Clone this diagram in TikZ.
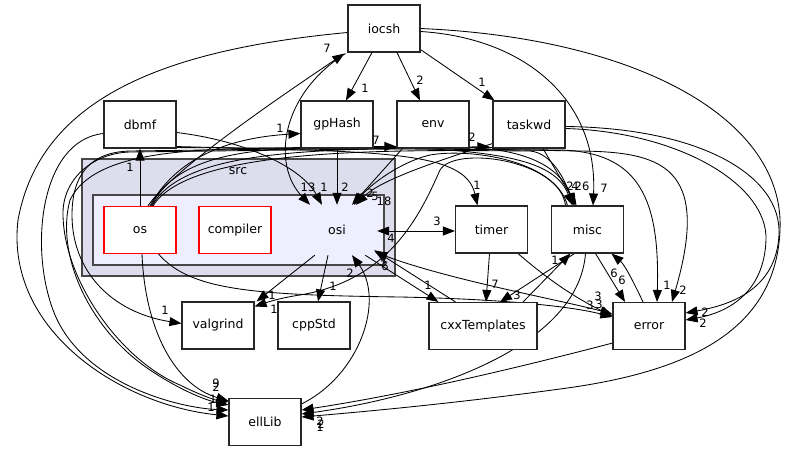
\documentclass[tikz,border=0pt]{standalone}
\usepackage{fontspec}
\setmainfont{DejaVu Sans}
\usetikzlibrary{arrows.meta,calc}
\pgfdeclarelayer{clus}
\pgfdeclarelayer{edges}
\pgfsetlayers{clus,edges,main}
\definecolor{srcfill}{HTML}{DDDDEE}
\definecolor{osifill}{HTML}{EEEEFF}
\newcommand{\dgnode}{\fontsize{12.5}{14}\selectfont}
\newcommand{\dglbl}{\fontsize{11.5}{12}\selectfont}
\begin{document}
\begin{tikzpicture}[x=1pt,y=-1pt,
  box/.style={draw=black!85, line width=1.1pt, fill=white, minimum width=72pt, minimum height=47pt, inner sep=0pt, font=\dgnode},
  redbox/.style={box, draw=red},
  clus/.style={draw=black!72, line width=1.4pt, inner sep=0pt},
  dep/.style={line width=0.85pt, -{Triangle[length=12pt,width=9pt]}},
  depb/.style={line width=0.85pt, {Triangle[length=12pt,width=9pt]}-{Triangle[length=12pt,width=9pt]}},
  lbl/.style={font=\dglbl, inner sep=0pt},
]
\useasboundingbox (0,0) rectangle (787,452);

\begin{pgfonlayer}{clus}
\node[clus, fill=srcfill, minimum width=313pt, minimum height=117pt] (src) at (238.5,217.5) {};
\node[clus, fill=osifill, minimum width=291pt, minimum height=70pt] (osidir) at (238.5,230) {};
\end{pgfonlayer}
\node[font=\dgnode] (srclbl) at (238,171) {src};

% nodes
\node[box] (iocsh) at (384,28.5) {iocsh};
\node[box] (dbmf) at (140,124.5) {dbmf};
\node[box] (gpHash) at (337,124.5) {gpHash};
\node[box] (env) at (433,124.5) {env};
\node[box] (taskwd) at (529,124.5) {taskwd};
\node[redbox] (os) at (140,230) {os};
\node[redbox] (compiler) at (235,230) {compiler};
\node[font=\dgnode, minimum width=80pt, minimum height=50pt, inner sep=0pt] (osi) at (337,230) {osi};
\node[box] (timer) at (491.5,229.5) {timer};
\node[box] (misc) at (587.5,229.5) {misc};
\node[box] (valgrind) at (218,325.5) {valgrind};
\node[box] (cppStd) at (314,325.5) {cppStd};
\node[box, minimum width=108pt] (cxxTemplates) at (483,326) {cxxTemplates};
\node[box] (error) at (649,326) {error};
\node[box] (ellLib) at (265,422) {ellLib};

\begin{pgfonlayer}{edges}
% iocsh
\draw[dep] ($(iocsh.south)+(-12,0)$) -- ($(gpHash.north)+(9,0)$);
\draw[dep] ($(iocsh.south)+(13,0)$) -- ($(env.north)+(-13,0)$);
\draw[dep] ($(iocsh.south east)+(0,-3)$) -- ($(taskwd.north west)+(2,0)$);
\draw[dep] ($(iocsh.east)+(0,3)$) .. controls (525,38) and (598,100) .. ($(misc.north)+(5.5,0)$);
\draw[dep] (iocsh.east) .. controls (640,38) and (785,120) .. (780,230) .. controls (776,330) and (690,372) .. (560,389) .. controls (450,404) and (360,412) .. ($(ellLib.east)+(0,-5)$);
\draw[dep] ($(iocsh.west)+(0,4)$) .. controls (160,50) and (40,100) .. (18,220) .. controls (5,330) and (120,405) .. ($(ellLib.west)+(0,-6)$);
\draw[dep] ($(iocsh.south west)+(-2,1)$) .. controls (280,95) and (272,165) .. ($(osi.north)+(-27,0)$);
% os
\draw[dep] ($(os.north)+(8,0)$) .. controls (168,175) and (260,110) .. ($(iocsh.south west)+(-3,1)$);
\draw[dep] (os.north) -- (dbmf.south);
\draw[dep] ($(os.north)+(10,0)$) .. controls (175,160) and (225,138) .. ($(gpHash.west)+(0,9)$);
\draw[dep] ($(os.north)+(11,0)$) .. controls (180,150) and (260,146) .. ($(env.south west)+(0,-2)$);
\draw[dep] ($(os.north)+(12,0)$) .. controls (185,146) and (330,150) .. ($(taskwd.south west)+(-3,-2)$);
\draw[dep] ($(os.north)+(13,0)$) .. controls (190,146) and (400,150) .. (530,151) .. controls (552,153) and (565,180) .. ($(misc.north)+(-14,0)$);
\draw[dep] ($(os.south)+(2,0)$) .. controls (145,330) and (175,385) .. ($(ellLib.north west)+(0,3)$);
\draw[dep] ($(os.south east)+(-18,0)$) .. controls (190,290) and (250,295) .. (400,297) .. controls (500,299) and (570,306) .. ($(error.west)+(0,-9)$);
% dbmf
\draw[dep] ($(dbmf.east)+(0,8)$) .. controls (240,140) and (300,165) .. ($(osi.north)+(-15,0)$);
\draw[dep] ($(dbmf.south east)+(0,-2)$) .. controls (380,152) and (465,150) .. ($(timer.north)+(-14,0)$);
\draw[dep] ($(dbmf.south east)+(0,-1)$) -- (560,150) .. controls (640,152) and (660,200) .. ($(error.north)+(8,0)$);
\draw[dep] ($(dbmf.west)+(0,9)$) .. controls (40,140) and (28,250) .. (55,315) .. controls (85,385) and (180,408) .. ($(ellLib.west)+(0,-12)$);
% gpHash
\draw[dep] (gpHash.south) -- (osi.north);
\draw[dep] ($(gpHash.south east)+(0,-2)$) .. controls (500,150) and (555,160) .. ($(misc.north)+(-15,0)$);
\draw[dep] ($(gpHash.south east)+(0,-1)$) -- (580,151) .. controls (660,152) and (712,165) .. ($(error.north)+(23,0)$);
\draw[dep] ($(gpHash.south west)+(2,-1)$) .. controls (200,149) and (95,148) .. (70,200) .. controls (55,255) and (90,330) .. (150,370) .. controls (180,390) and (205,400) .. ($(ellLib.west)+(0,-17)$);
% env
\draw[dep] ($(env.south west)+(6,0)$) -- ($(osi.north)+(15,0)$);
\draw[dep] ($(env.south east)+(0,-1)$) .. controls (535,150) and (562,172) .. ($(misc.north)+(-13,0)$);
\draw[dep] ($(env.south west)+(0,-1)$) -- (130,151) .. controls (90,152) and (72,175) .. (72,215) .. controls (72,270) and (110,312) .. ($(valgrind.west)+(0,-2)$);
% taskwd
\draw[dep] ($(taskwd.south west)+(0,-5)$) .. controls (440,160) and (380,180) .. ($(osi.north)+(19,0)$);
\draw[dep] ($(taskwd.south)+(14,0)$) -- ($(misc.north)+(-11,0)$);
\draw[dep] ($(taskwd.south west)+(0,-1)$) -- (130,152) .. controls (92,153) and (62,180) .. (63,215) .. controls (64,280) and (120,360) .. (180,385) .. controls (200,395) and (215,400) .. ($(ellLib.north west)+(0,4)$);
\draw[dep] ($(taskwd.east)+(0,2)$) .. controls (700,128) and (782,175) .. (779,235) .. controls (776,290) and (730,305) .. ($(error.east)+(0,-13)$);
\draw[dep] ($(taskwd.east)+(0,4)$) .. controls (680,132) and (768,185) .. (766,240) .. controls (764,295) and (725,313) .. ($(error.east)+(0,-6)$);
% misc
\draw[dep] ($(misc.north)+(-20,0)$) .. controls (555,160) and (470,148) .. (430,155) .. controls (400,162) and (370,185) .. ($(osi.north)+(17,0)$);
\draw[dep] ($(misc.north)+(-22,0)$) .. controls (560,160) and (455,145) .. (440,170) .. controls (420,215) and (390,280) .. (300,295) .. controls (280,298) and (268,302) .. ($(valgrind.north east)+(0,5)$);
\draw[dep] ($(misc.south)+(-13,0)$) -- ($(cxxTemplates.north)+(17,0)$);
\draw[dep] ($(cxxTemplates.north)+(40,0)$) -- ($(misc.south)+(-17,0)$);
\draw[dep] ($(misc.south)+(8,0)$) -- ($(error.north)+(-24,0)$);
\draw[dep] ($(error.north)+(-6,0)$) .. controls (635,285) and (625,265) .. ($(misc.south)+(24,0)$);
\draw[dep] ($(misc.south)+(-2,0)$) .. controls (578,350) and (420,398) .. ($(ellLib.east)+(0,-8)$);
% timer
\draw[depb] ($(osi.east)+(0,1)$) -- ($(timer.west)+(0,1.5)$);
\draw[dep] ($(timer.south)+(-2,0)$) -- ($(cxxTemplates.north)+(3,0)$);
\draw[dep] ($(timer.south east)+(-10,0)$) .. controls (560,290) and (590,305) .. ($(error.west)+(0,-10)$);
% osi
\draw[dep] ($(osi.south)+(-9,0)$) -- ($(cppStd.north)+(4,0)$);
\draw[dep] ($(osi.south west)+(18,0)$) -- ($(valgrind.north east)+(2,0)$);
\draw[dep] ($(osi.south east)+(-12,0)$) -- ($(cxxTemplates.north west)+(10,0)$);
\draw[dep] ($(cxxTemplates.north west)+(27,0)$) -- ($(osi.south east)+(-3,-5)$);
\draw[depb] ($(osi.south east)+(-2,-3)$) .. controls (450,280) and (560,300) .. ($(error.west)+(0,-12)$);
% ellLib, error
\draw[dep] ($(ellLib.north east)+(0,6)$) .. controls (360,375) and (385,300) .. ($(osi.south)+(15,0)$);
\draw[dep] ($(error.south west)+(0,-7)$) .. controls (540,362) and (420,392) .. ($(ellLib.east)+(0,-12)$);
\end{pgfonlayer}

% edge labels
\node[lbl] (l1) at (365,88) {1};
\node[lbl] (l2) at (420,80) {2};
\node[lbl] (l3) at (482,82) {1};
\node[lbl] (l4) at (604,188) {7};
\node[lbl] (l5) at (327,48) {7};
\node[lbl] (l6) at (308,187) {13};
\node[lbl] (l7) at (324,187) {1};
\node[lbl] (l8) at (345,187) {2};
\node[lbl] (l9) at (375,196) {5};
\node[lbl] (l10) at (384,201) {18};
\node[lbl] (l11) at (370,193) {2};
\node[lbl] (l12) at (280,128) {1};
\node[lbl] (l13) at (376,140) {7};
\node[lbl] (l14) at (472,137) {2};
\node[lbl] (l15) at (570,186) {2};
\node[lbl] (l16) at (575,186) {4};
\node[lbl] (l17) at (582,186) {26};
\node[lbl] (l18) at (130,167) {1};
\node[lbl] (l19) at (477,185) {1};
\node[lbl] (l20) at (437,221) {3};
\node[lbl] (l21) at (391,238) {4};
\node[lbl] (l22) at (495,284) {7};
\node[lbl] (l23) at (428,285) {1};
\node[lbl] (l24) at (384,262) {5};
\node[lbl] (l25) at (385,266) {6};
\node[lbl] (l26) at (350,273) {2};
\node[lbl] (l27) at (333,286) {1};
\node[lbl] (l28) at (272,295) {1};
\node[lbl] (l29) at (274,309) {1};
\node[lbl] (l30) at (165,310) {1};
\node[lbl] (l31) at (216,383) {9};
\node[lbl] (l32) at (216,387) {2};
\node[lbl] (l33) at (213,399) {1};
\node[lbl] (l34) at (211,407) {1};
\node[lbl] (l35) at (320,421) {2};
\node[lbl] (l36) at (320,427) {1};
\node[lbl] (l37) at (321,424) {2};
\node[lbl] (l38) at (517,295) {3};
\node[lbl] (l39) at (555,260) {1};
\node[lbl] (l40) at (614,273) {6};
\node[lbl] (l41) at (622,280) {6};
\node[lbl] (l42) at (598,296) {3};
\node[lbl] (l43) at (590,305) {3};
\node[lbl] (l44) at (599,304) {3};
\node[lbl] (l45) at (667,285) {1};
\node[lbl] (l46) at (683,290) {2};
\node[lbl] (l47) at (705,312) {2};
\node[lbl] (l48) at (703,323) {2};
\end{tikzpicture}
\end{document}
